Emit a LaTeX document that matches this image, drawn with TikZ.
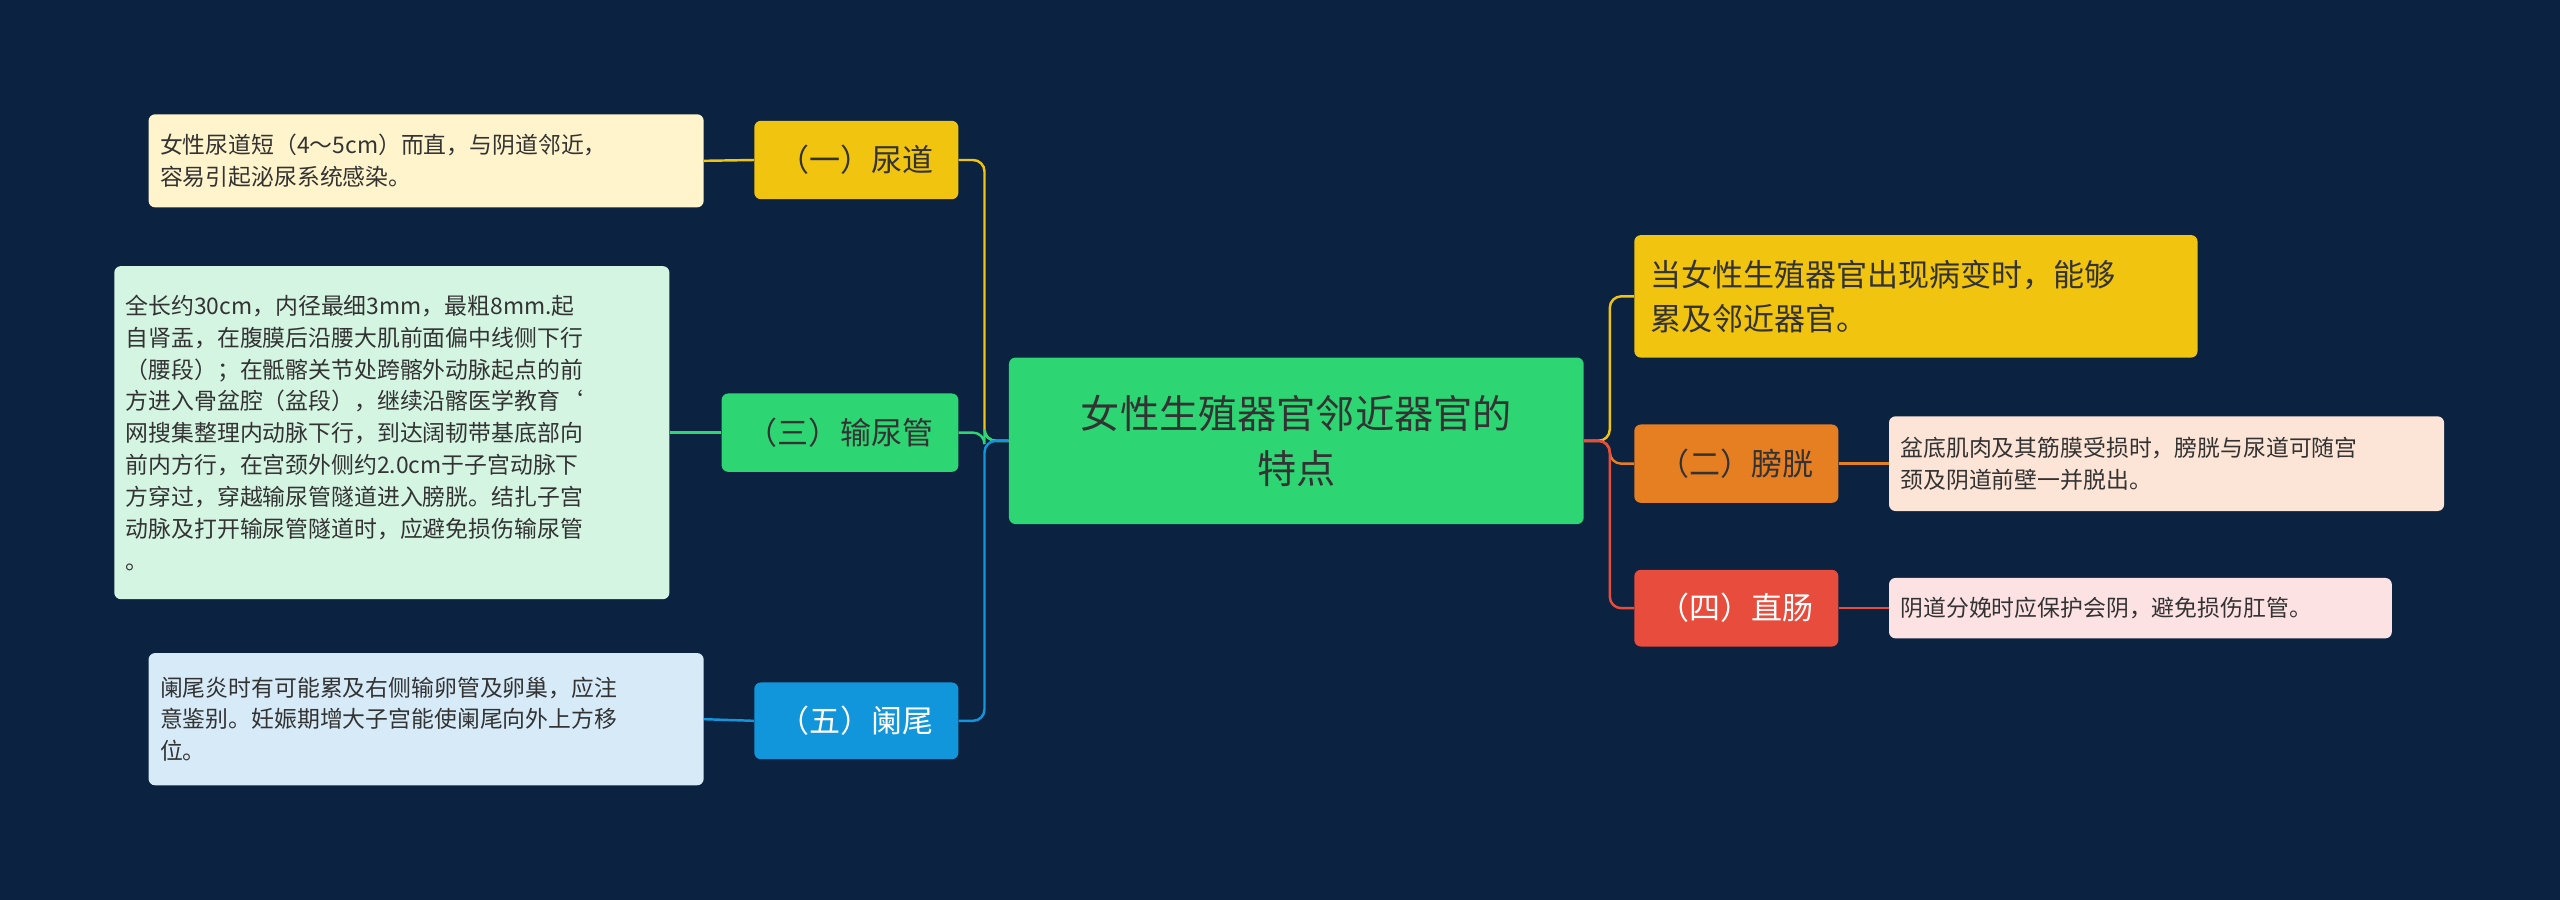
\documentclass[tikz,border=0pt]{standalone}
\usepackage{fontspec}
\setmainfont{Noto Sans CJK SC}
\definecolor{bgc}{HTML}{0B2240}
\definecolor{cgreen}{HTML}{2ED573}
\definecolor{cyellow}{HTML}{F1C40F}
\definecolor{corange}{HTML}{E67E22}
\definecolor{cred}{HTML}{E74C3C}
\definecolor{cblue}{HTML}{1296DB}
\definecolor{lyellow}{HTML}{FFF4CC}
\definecolor{lgreen}{HTML}{D5F5E3}
\definecolor{lblue}{HTML}{D6EAF8}
\definecolor{lorange}{HTML}{FCE4D6}
\definecolor{lred}{HTML}{FDE2E4}
\definecolor{txt}{HTML}{333333}
\tikzset{
  topic/.style={rounded corners=4pt, font=\fontsize{19}{25}\selectfont, text=txt, inner sep=0pt},
  leaf/.style={rounded corners=4pt, font=\fontsize{14}{19.5}\selectfont, text=txt, align=left, inner sep=0pt},
  link/.style={line width=1.5pt, rounded corners=7pt}
}
\begin{document}
\begin{tikzpicture}[x=1pt,y=-1pt]
\fill[bgc] (0,0) rectangle (1568,551);
\node[topic, fill=cgreen, minimum width=352pt, minimum height=102pt, align=center, font=\fontsize{24}{34}\selectfont] (root) at (794,270) {女性生殖器官邻近器官的\\特点};
% right side
\node[topic, fill=cyellow, minimum width=345pt, minimum height=75pt, align=left, text width=325pt, font=\fontsize{19}{27}\selectfont] (r1) at (1173.5,181.5) {当女性生殖器官出现病变时，能够\\累及邻近器官。};
\node[topic, fill=corange, minimum width=125pt, minimum height=48pt] (r2) at (1063.5,284) {（二）膀胱};
\node[topic, fill=cred, minimum width=125pt, minimum height=47pt, text=white] (r3) at (1063.5,372.5) {（四）直肠};
\node[leaf, fill=lorange, minimum width=340pt, minimum height=58pt, text width=326pt] (l2) at (1327,284) {盆底肌肉及其筋膜受损时，膀胱与尿道可随宫\\颈及阴道前壁一并脱出。};
\node[leaf, fill=lred, minimum width=308pt, minimum height=37pt, text width=294pt] (l4) at (1311,372.5) {阴道分娩时应保护会阴，避免损伤肛管。};
% left side
\node[topic, fill=cyellow, minimum width=125pt, minimum height=48pt] (n1) at (524.5,98) {（一）尿道};
\node[topic, fill=cgreen, minimum width=145pt, minimum height=48pt] (n3) at (514.5,265) {（三）输尿管};
\node[topic, fill=cblue, minimum width=125pt, minimum height=47pt, text=white] (n5) at (524.5,441.5) {（五）阑尾};
\node[leaf, fill=lyellow, minimum width=340pt, minimum height=57pt, text width=326pt] (k1) at (261,98.5) {女性尿道短（4～5cm）而直，与阴道邻近，\\容易引起泌尿系统感染。};
\node[leaf, fill=lgreen, minimum width=340pt, minimum height=204pt, text width=326pt] (k3) at (240,265) {全长约30cm，内径最细3mm，最粗8mm.起\\自肾盂，在腹膜后沿腰大肌前面偏中线侧下行\\（腰段）；在骶髂关节处跨髂外动脉起点的前\\方进入骨盆腔（盆段），继续沿髂医学教育`\\网搜集整理内动脉下行，到达阔韧带基底部向\\前内方行，在宫颈外侧约2.0cm于子宫动脉下\\方穿过，穿越输尿管隧道进入膀胱。结扎子宫\\动脉及打开输尿管隧道时，应避免损伤输尿管\\。};
\node[leaf, fill=lblue, minimum width=340pt, minimum height=81pt, text width=326pt] (k5) at (261,440.5) {阑尾炎时有可能累及右侧输卵管及卵巢，应注\\意鉴别。妊娠期增大子宫能使阑尾向外上方移\\位。};
% connectors
\coordinate (lj) at (603,270);
\coordinate (rj) at (986,270);
\draw[link, cyellow] (root.west) -- (lj) |- (n1.east);
\draw[link, cgreen] (root.west) -- (lj) |- (n3.east);
\draw[link, cblue] (root.west) -- (lj) |- (n5.east);
\draw[link, cyellow] (root.east) -- (rj) |- (r1.west);
\draw[link, corange] (root.east) -- (rj) |- (r2.west);
\draw[link, cred] (root.east) -- (rj) |- (r3.west);
\draw[link, cyellow] (n1.west) -- (k1.east);
\draw[link, cgreen] (n3.west) -- (k3.east);
\draw[link, cblue] (n5.west) -- (k5.east);
\draw[link, corange] (r2.east) -- (l2.west);
\draw[link, cred] (r3.east) -- (l4.west);
\end{tikzpicture}
\end{document}
